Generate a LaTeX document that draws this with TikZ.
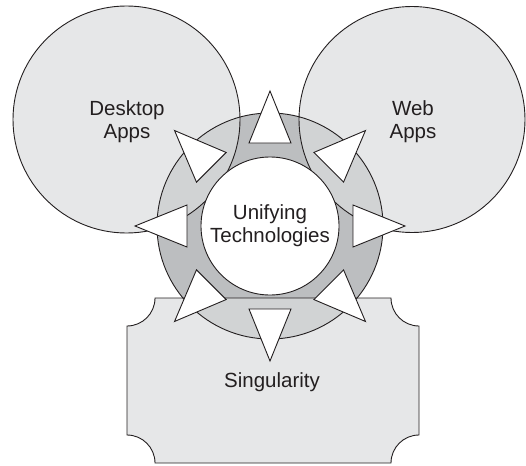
\documentclass[tikz,border=0pt]{standalone}
\usepackage{fontspec}
\setmainfont{Liberation Sans}
\usetikzlibrary{calc}
\definecolor{lightfill}{HTML}{E6E7E8}
\definecolor{ringdark}{HTML}{BCBEC0}
\definecolor{ringlight}{HTML}{D1D3D4}
\definecolor{ink}{HTML}{231F20}
\tikzset{
  outline/.style={draw=ink, line width=0.9pt},
  label/.style={text=ink, align=center, font=\fontsize{20.5}{23}\selectfont, inner sep=0pt},
  arrowtri/.style={fill=white, draw=ink, line width=0.9pt, line join=miter}
}
\begin{document}
\begin{tikzpicture}[x=1pt, y=-1pt]
\useasboundingbox (0,0) rectangle (526,465);
\coordinate (lc) at (126.5,119.5);
\coordinate (rc) at (412,119.5);
\coordinate (cc) at (270,226);
\def\rectpath{(155,298) -- (391,298) arc[start angle=180, end angle=90, radius=28]
  -- (419,435) arc[start angle=270, end angle=180, radius=28]
  -- (155,463) arc[start angle=360, end angle=270, radius=28]
  -- (127,326) arc[start angle=90, end angle=0, radius=28] -- cycle}
% base fills
\fill[lightfill] (lc) circle[radius=113.5];
\fill[lightfill] (rc) circle[radius=113];
\fill[lightfill] \rectpath;
% ring
\fill[ringdark] (cc) circle[radius=113];
\begin{scope}
  \clip (lc) circle[radius=113.5];
  \fill[ringlight] (cc) circle[radius=113];
\end{scope}
\begin{scope}
  \clip (rc) circle[radius=113];
  \fill[ringlight] (cc) circle[radius=113];
\end{scope}
\begin{scope}
  \clip \rectpath;
  \fill[ringlight] (cc) circle[radius=113];
\end{scope}
% outlines
\draw[outline] (lc) circle[radius=113.5];
\draw[outline] (rc) circle[radius=113];
\draw[outline] \rectpath;
\draw[outline] (cc) circle[radius=113];
% inner circle
\draw[outline, fill=white] (cc) circle[radius=69];
% arrows
\foreach \a in {0,45,...,315}{
  \filldraw[arrowtri] ($(cc)+(\a:135)$) -- ($(cc)+(\a:83)+(\a+90:21)$) -- ($(cc)+(\a:83)+(\a-90:21)$) -- cycle;
}
% labels
\node[label] (desk) at (127,122) {Desktop\\Apps};
\node[label] (web) at (413,122) {Web\\Apps};
\node[label] (unify) at (270,226) {Unifying\\Technologies};
\node[label] (sing) at (272,382) {Singularity};
\end{tikzpicture}
\end{document}
